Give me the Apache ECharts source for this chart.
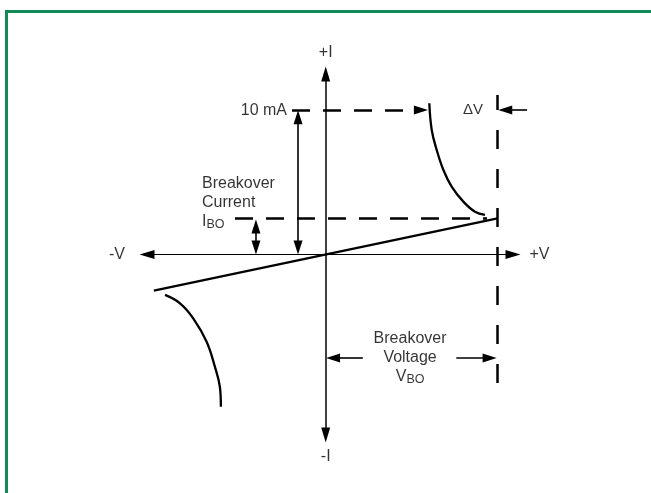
<!DOCTYPE html>
<html>
<head>
<meta charset="utf-8">
<script src="https://cdn.jsdelivr.net/npm/echarts@6/dist/echarts.min.js"></script>
<style>
html, body { margin: 0; padding: 0; background: #fff; }
#chart { width: 651px; height: 493px; }
#frame { position: absolute; left: 5px; top: 10px; width: 700px; height: 520px;
  border-left: 3px solid #118a58; border-top: 3px solid #118a58; pointer-events: none; }
</style>
</head>
<body>
<div id="chart"></div>
<div id="frame"></div>
<script>
// schematic units: V (volts, V_BO = 100) and I (mA)
const vRange = [-104, 109];
const iRange = [-12.5, 12.5];

const iTen = 10;    // 10 mA level
const iBO = 2.5;    // breakover current
const vBO = 100;    // breakover voltage

// off-state line through the origin
const offLine = [[-100, -2.5], [100, 2.5]];
// negative resistance region, first and third quadrant
const upperCurve = [[60.3, 10.47], [61.7, 8.62], [64.6, 7.24], [68.5, 5.85], [73.3, 4.70], [80.1, 3.66], [86.9, 2.96], [92.7, 2.74]];
const lowerCurve = [[-93.5, -2.80], [-84.8, -3.38], [-77.1, -4.42], [-69.3, -6.04], [-64.5, -7.77], [-61.6, -9.16], [-61.0, -10.54]];

// dashed guide lines
const tenMaGuide = [[-19.6, iTen], [55.4, iTen]];
const iboGuide = [[-52.8, iBO], [93.9, iBO]];
const vboGuide = [[vBO, -8.9], [vBO, 11.05]];

// dimension arrows (end points at arrow centres)
const deltaVArrow = [[117.2, iTen], [104.5, iTen]];
const tenMaSpan = [[-16.1, 0.49], [-16.1, 9.5]];
const iboSpan = [[-40.6, 0.49], [-40.6, 1.94]];
const vboLeft = [[21.6, -7.17], [4.3, -7.17]];
const vboRight = [[76, -7.17], [95.4, -7.17]];

// texts
const axisNames = ['+I', '-I', '-V', '+V'];
const axisNamePos = [[0, 14.0], [0, -14.0], [-121.5, 0], [124.4, 0]];
const tenMaText = '10 mA';
const deltaVText = 'ΔV';
const iboText = ['Breakover', 'Current', 'I', 'BO'];
const vboText = ['Breakover', 'Voltage', 'V', 'BO'];

const FONT = '"Liberation Sans", Arial, Helvetica, sans-serif';
const ink = '#000';

const rich = {
  a: { fontSize: 16, lineHeight: 19, color: ink, fontFamily: FONT },
  s: { fontSize: 12.5, lineHeight: 19, color: ink, fontFamily: FONT, verticalAlign: 'bottom', padding: [4, 0, 0, 0] }
};
function block(t) {
  return '{a|' + t[0] + '}\n{a|' + t[1] + '}\n{a|' + t[2] + '}{s|' + t[3] + '}';
}

const textData = axisNames.map((n, k) => ({
  value: axisNamePos[k],
  label: { formatter: n, align: 'center', verticalAlign: 'middle', fontSize: 16 }
}));
textData.push({ value: [-22.5, iTen], label: { formatter: tenMaText, align: 'right', verticalAlign: 'middle', fontSize: 16 } });
textData.push({ value: [85.7, iTen], label: { formatter: deltaVText, align: 'center', verticalAlign: 'middle', fontSize: 15 } });
textData.push({ value: [-72, 5.57], label: { formatter: block(iboText), align: 'left', verticalAlign: 'top', rich: rich } });
textData.push({ value: [49.1, -5.16], label: { formatter: block(vboText), align: 'center', verticalAlign: 'top', rich: rich } });

function seg(coords, dash, arrows) {
  return {
    type: 'lines',
    coordinateSystem: 'cartesian2d',
    silent: true,
    clip: false,
    z: 3,
    symbol: arrows,
    symbolSize: [[9, 14], [9, 14]],
    lineStyle: { color: ink, width: dash ? 2.5 : 1.6, type: dash || 'solid', opacity: 1 },
    data: [{ coords: coords }]
  };
}

const axisCommon = {
  type: 'value',
  axisTick: { show: false },
  axisLabel: { show: false },
  splitLine: { show: false }
};

const chart = echarts.init(document.getElementById('chart'));
chart.setOption({
  animation: false,
  backgroundColor: '#fff',
  grid: { left: 147, top: 74, width: 366, height: 361 },
  xAxis: Object.assign({}, axisCommon, {
    min: vRange[0], max: vRange[1],
    axisLine: { onZero: true, symbol: ['triangle', 'triangle'], symbolSize: [9, 15], lineStyle: { color: ink, width: 1.2 } }
  }),
  yAxis: Object.assign({}, axisCommon, {
    min: iRange[0], max: iRange[1],
    axisLine: { onZero: true, symbol: ['triangle', 'triangle'], symbolSize: [9, 15], lineStyle: { color: ink, width: 1.5 } }
  }),
  series: [
    { type: 'line', data: offLine, showSymbol: false, silent: true, lineStyle: { color: ink, width: 2.3 } },
    { type: 'line', data: upperCurve, smooth: 0.4, showSymbol: false, silent: true, lineStyle: { color: ink, width: 2.3 } },
    { type: 'line', data: lowerCurve, smooth: 0.4, showSymbol: false, silent: true, lineStyle: { color: ink, width: 2.3 } },
    seg(tenMaGuide, [18, 13], ['none', 'triangle']),
    seg(iboGuide, [18, 13], ['none', 'none']),
    seg(vboGuide, [19, 20], ['none', 'none']),
    seg(deltaVArrow, null, ['none', 'triangle']),
    seg(tenMaSpan, null, ['triangle', 'triangle']),
    seg(iboSpan, null, ['triangle', 'triangle']),
    seg(vboLeft, null, ['none', 'triangle']),
    seg(vboRight, null, ['none', 'triangle']),
    {
      type: 'scatter',
      symbolSize: 0,
      silent: true,
      clip: false,
      z: 5,
      label: { show: true, color: ink, fontFamily: FONT, position: [0, 0] },
      data: textData
    }
  ]
});
</script>
</body>
</html>
